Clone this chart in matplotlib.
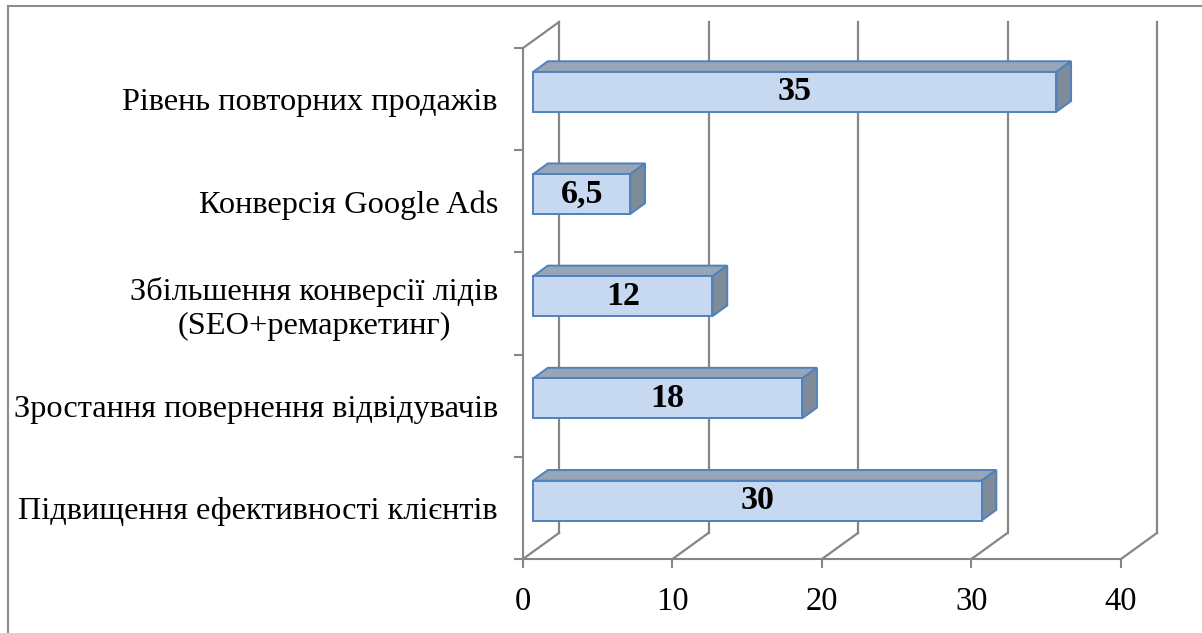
"""
Pseudo-3D horizontal bar chart (Excel style) drawn with plain matplotlib.
"""

import matplotlib.pyplot as plt
from matplotlib.patches import Polygon, Rectangle
from matplotlib.lines import Line2D

categories = ['Підвищення ефективності клієнтів',
              'Зростання повернення відвідувачів',
              'Збільшення конверсії лідів\n(SEO+ремаркетинг)',
              'Конверсія Google Ads',
              'Рівень повторних продажів']
values = [30, 18, 12, 6.5, 35]
value_labels = ['30', '18', '12', '6,5', '35']
xticks = [0, 10, 20, 30, 40]

# depth of the fake 3d box, in data units
depth_x = 2.41
depth_y = 0.255
bar_front = 0.28   # where the bar front face sits in the depth (fraction)
bar_depth = 0.41   # depth of a bar (fraction)
bar_height = 0.39

grid_color = '#868686'
plt.rcParams['font.family'] = ['Liberation Serif', 'DejaVu Serif']

fig = plt.figure(figsize=(12.02, 6.33), dpi=100)
ax = fig.add_axes([523 / 1202, 74 / 633, 634 / 1202, 537 / 633])
ax.set_xlim(0, xticks[-1] + depth_x)
ax.set_ylim(0, len(categories) + depth_y)
ax.patch.set_visible(False)

# axes spines only on the front plane
for side in ['top', 'right']:
    ax.spines[side].set_visible(False)
for side in ['left', 'bottom']:
    ax.spines[side].set_color(grid_color)
    ax.spines[side].set_linewidth(1.5)
ax.spines['bottom'].set_bounds(0, xticks[-1])
ax.spines['left'].set_bounds(0, len(categories))

ax.set_xticks(xticks)
ax.set_xticklabels([str(t) for t in xticks], fontsize=23.5)
ax.tick_params(axis='x', direction='out', length=6.5, width=1.5, color=grid_color, pad=13)

ax.set_yticks(range(len(categories) + 1))
ax.set_yticklabels([])
ax.set_yticks([i + 0.5 for i in range(len(categories))], minor=True)
ax.set_yticklabels(categories, minor=True, fontsize=23.3)
ax.tick_params(axis='y', which='major', direction='out', length=6.5, width=1.5, color=grid_color)
ax.tick_params(axis='y', which='minor', length=0, pad=18)
for lbl in ax.get_yticklabels(minor=True):
    lbl.set_multialignment('center')

# walls: floor diagonals + back vertical grid lines
top = len(categories)
for t in xticks:
    ax.plot([t, t + depth_x], [0, depth_y], color=grid_color, lw=1.6, zorder=1, clip_on=False)
    ax.plot([t + depth_x, t + depth_x], [depth_y, top + depth_y], color=grid_color, lw=1.6,
            zorder=1, clip_on=False)
# left wall top edge
ax.plot([0, depth_x], [top, top + depth_y], color=grid_color, lw=1.6, zorder=1, clip_on=False)

# bars
face_color = '#C6D9F1'
top_color = '#97A5B8'
side_color = '#7F8B98'
edge_color = '#4F81BD'
ox, oy = bar_front * depth_x, bar_front * depth_y
bx, by = bar_depth * depth_x, bar_depth * depth_y
for i, (v, lab) in enumerate(zip(values, value_labels)):
    y0 = i + 0.5 - bar_height / 2 + oy
    y1 = y0 + bar_height
    x0 = ox
    x1 = v + ox
    top_face = Polygon([(x0, y1), (x1, y1), (x1 + bx, y1 + by), (x0 + bx, y1 + by)],
                       closed=True, facecolor=top_color, edgecolor=edge_color, lw=1.4, zorder=3)
    side_face = Polygon([(x1, y0), (x1 + bx, y0 + by), (x1 + bx, y1 + by), (x1, y1)],
                        closed=True, facecolor=side_color, edgecolor=edge_color, lw=1.4, zorder=3)
    front_face = Rectangle((x0, y0), x1 - x0, bar_height, facecolor=face_color,
                           edgecolor=edge_color, lw=1.4, zorder=4)
    ax.add_patch(top_face)
    ax.add_patch(side_face)
    ax.add_patch(front_face)
    ax.text((x0 + x1) / 2, (y0 + y1) / 2, lab, ha='center', va='center',
            fontsize=24.5, fontweight='bold', zorder=5)

# chart frame (only left and top edges are inside the picture)
fig.add_artist(Line2D([7.5 / 1202, 7.5 / 1202], [0, 1 - 5.5 / 633], color='#8c8c8c', lw=1.5))
fig.add_artist(Line2D([7.5 / 1202, 1], [1 - 5.5 / 633, 1 - 5.5 / 633], color='#8c8c8c', lw=1.5))

fig.savefig('out.png', dpi=100)
